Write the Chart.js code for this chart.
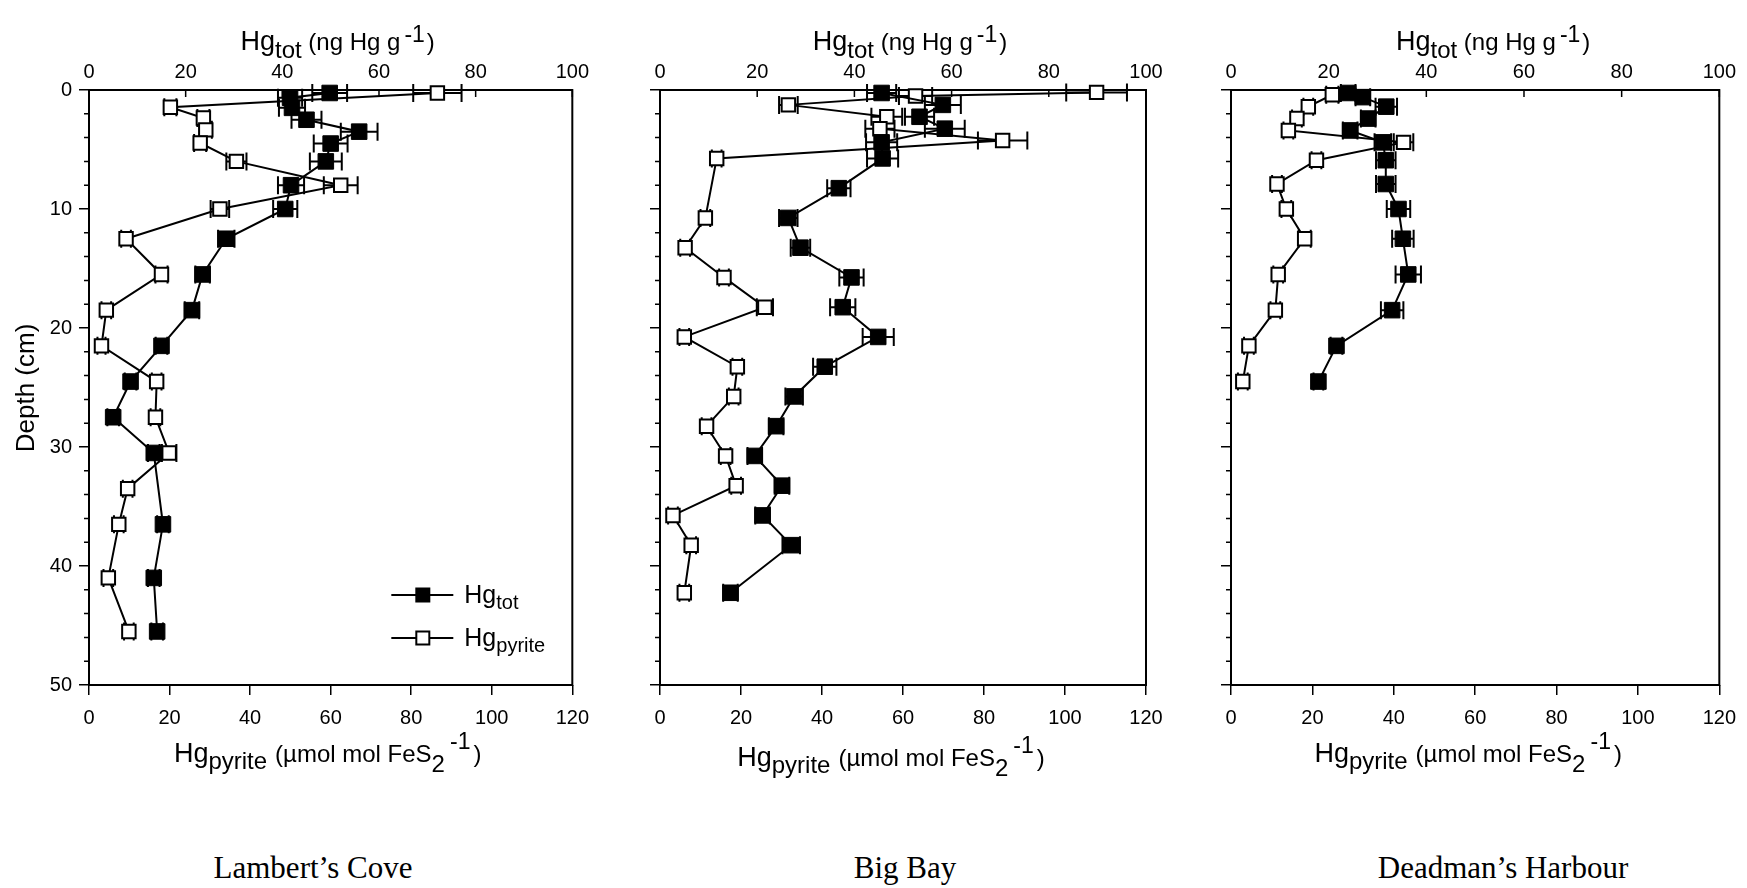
<!DOCTYPE html>
<html>
<head>
<meta charset="utf-8">
<title>Hg depth profiles</title>
<script src="https://cdn.jsdelivr.net/npm/chart.js@4.4.0/dist/chart.umd.min.js"></script>
<style>
    body { margin: 0; background: #fff; width: 1747px; height: 888px; position: relative; overflow: hidden; }
    canvas { position: absolute; top: 0; }
    .site { position: absolute; top: 853px; line-height: 30px; font-family: "Liberation Serif", "Times New Roman", serif; font-size: 31px; color: #000; transform: translateX(-50%); white-space: nowrap; }
</style>
</head>
<body>
<canvas id="lambertChart" width="600" height="800" style="left:0px"></canvas>
<canvas id="bigBayChart" width="580" height="800" style="left:600px"></canvas>
<canvas id="deadmanChart" width="567" height="800" style="left:1180px"></canvas>
<div class="site" style="left:313px">Lambert’s Cove</div>
<div class="site" style="left:905px">Big Bay</div>
<div class="site" style="left:1503px">Deadman’s Harbour</div>

<script>
        // Lambert's Cove
        const lcTotDepth = [0.25, 0.65, 1.5, 2.5, 3.5, 4.5, 6, 8, 10, 12.5, 15.5, 18.5, 21.5, 24.5, 27.5, 30.5, 36.5, 41, 45.5];
        const lcTot      = [49.8, 41.6, 42.0, 45.0, 55.9, 50.0, 49.0, 41.8, 40.6, 28.4, 23.5, 21.3, 15.0, 8.6, 5.0, 13.4, 15.3, 13.4, 14.1];
        const lcTotErr   = [3.6, 2.5, 2.7, 3.1, 3.8, 3.5, 3.3, 2.7, 2.5, 1.7, 1.5, 1.5, 1.2, 1.2, 1.2, 1.2, 1.2, 1.2, 1.2];
        const lcPyrDepth = [0.25, 1.45, 2.35, 3.35, 4.45, 6, 8, 10, 12.5, 15.5, 18.5, 21.5, 24.5, 27.5, 30.5, 33.5, 36.5, 41, 45.5];
        const lcPyr      = [86.5, 20.2, 28.4, 29.0, 27.6, 36.6, 62.5, 32.5, 9.2, 18.0, 4.3, 3.1, 16.8, 16.5, 19.9, 9.6, 7.4, 4.8, 9.9];
        const lcPyrErr   = [6.0, 1.5, 1.5, 1.5, 1.5, 2.5, 4.2, 2.3, 1.2, 1.5, 1.2, 1.0, 1.2, 1.2, 1.8, 1.2, 1.2, 1.2, 1.2];

        // Big Bay
        const bbTotDepth = [0.25, 1.25, 2.25, 3.25, 4.4, 5.75, 8.25, 10.75, 13.25, 15.75, 18.25, 20.75, 23.25, 25.75, 28.25, 30.75, 33.25, 35.75, 38.25, 42.25];
        const bbTot      = [45.6, 58.2, 53.4, 58.6, 45.6, 45.8, 36.8, 26.4, 28.9, 39.4, 37.6, 44.9, 33.9, 27.6, 23.9, 19.5, 25.1, 21.1, 27.0, 14.5];
        const bbTotErr   = [3.0, 3.7, 3.0, 4.1, 3.2, 3.2, 2.4, 1.9, 2.0, 2.5, 2.6, 3.2, 2.4, 1.8, 1.5, 1.5, 1.5, 1.5, 1.8, 1.5];
        const bbPyrDepth = [0.2, 0.5, 1.25, 2.25, 3.25, 4.25, 5.75, 10.75, 13.25, 15.75, 18.25, 20.75, 23.25, 25.75, 28.25, 30.75, 33.25, 35.75, 38.25, 42.25];
        const bbPyr      = [107.8, 63.1, 31.7, 56.0, 54.3, 84.6, 14.0, 11.2, 6.2, 15.8, 25.9, 6.0, 19.1, 18.2, 11.5, 16.2, 18.8, 3.2, 7.7, 6.0];
        const bbPyrErr   = [7.5, 4.1, 2.3, 3.8, 3.6, 6.1, 1.2, 1.2, 1.2, 1.2, 2.0, 1.2, 1.2, 1.2, 1.2, 1.2, 1.2, 1.2, 1.2, 1.2];

        // Deadman's Harbour
        const dhTotDepth = [0.25, 0.6, 1.4, 2.4, 3.4, 4.4, 5.9, 7.9, 10, 12.5, 15.5, 18.5, 21.5, 24.5];
        const dhTot      = [24.0, 27.0, 31.8, 28.1, 24.4, 31.1, 31.7, 31.7, 34.3, 35.2, 36.3, 33.0, 21.6, 17.9];
        const dhTotErr   = [1.5, 1.5, 2.2, 1.5, 1.5, 1.7, 2.0, 2.0, 2.4, 2.2, 2.6, 2.3, 1.2, 1.0];
        const dhPyrDepth = [0.4, 1.4, 2.4, 3.4, 4.4, 5.9, 7.9, 10, 12.5, 15.5, 18.5, 21.5, 24.5];
        const dhPyr      = [24.9, 19.0, 16.2, 14.1, 42.4, 21.0, 11.3, 13.6, 18.1, 11.6, 10.9, 4.4, 2.9];
        const dhPyrErr   = [1.5, 1.2, 1.2, 1.2, 2.4, 1.2, 1.2, 1.2, 1.5, 1.2, 1.2, 1.2, 1.2];

        const FONT = '"Liberation Sans", Arial, Helvetica, sans-serif';
        Chart.defaults.font.family = FONT;
        Chart.defaults.color = '#000';

        function toPoints(depths, values) {
            return values.map((v, i) => ({ x: v, y: depths[i] }));
        }

        // text with sub/superscripts: [text, size, dy, gapBefore]
        function richText(ctx, x, y, parts) {
            let w = 0;
            parts.forEach(p => {
                ctx.font = p[1] + 'px ' + FONT;
                w += (p[3] || 0) + ctx.measureText(p[0]).width;
            });
            let cx = x - w / 2;
            parts.forEach(p => {
                ctx.font = p[1] + 'px ' + FONT;
                cx += p[3] || 0;
                ctx.fillText(p[0], cx, y + p[2]);
                cx += ctx.measureText(p[0]).width;
            });
        }

        // horizontal error bars with caps
        const errorBars = {
            id: 'errorBars',
            beforeDatasetsDraw(chart) {
                const ctx = chart.ctx;
                ctx.save();
                ctx.strokeStyle = '#000';
                ctx.lineWidth = 2;
                chart.data.datasets.forEach((ds, di) => {
                    const meta = chart.getDatasetMeta(di);
                    const xs = chart.scales[ds.xAxisID];
                    ds.data.forEach((p, i) => {
                        const e = ds.errors[i];
                        const y = meta.data[i].y;
                        const x0 = xs.getPixelForValue(p.x - e);
                        const x1 = xs.getPixelForValue(p.x + e);
                        ctx.beginPath();
                        ctx.moveTo(x0, y); ctx.lineTo(x1, y);
                        ctx.moveTo(x0, y - 9); ctx.lineTo(x0, y + 9);
                        ctx.moveTo(x1, y - 9); ctx.lineTo(x1, y + 9);
                        ctx.stroke();
                    });
                });
                ctx.restore();
            }
        };

        // frame, inward top ticks, minor depth ticks, titles, legend
        const panelDeco = {
            id: 'panelDeco',
            beforeDatasetsDraw(chart, args, opts) {
                const ctx = chart.ctx;
                const a = chart.chartArea;
                ctx.save();
                ctx.strokeStyle = '#000';
                ctx.lineWidth = 2;
                ctx.strokeRect(a.left, a.top, a.right - a.left, a.bottom - a.top);
                ctx.lineWidth = 1.5;
                ctx.beginPath();
                chart.scales.xTop.ticks.forEach(t => {
                    const x = chart.scales.xTop.getPixelForValue(t.value);
                    ctx.moveTo(x, a.top); ctx.lineTo(x, a.top + 7);
                });
                const ys = chart.scales.y;
                for (let d = ys.min; d <= ys.max; d += 2) {
                    if (d % 10 === 0) continue;
                    const y = ys.getPixelForValue(d);
                    ctx.moveTo(a.left, y); ctx.lineTo(a.left - 5, y);
                }
                ctx.stroke();
                ctx.restore();
            },
            afterDraw(chart, args, opts) {
                const ctx = chart.ctx;
                const a = chart.chartArea;
                const mid = (a.left + a.right) / 2;
                ctx.save();
                ctx.fillStyle = '#000';
                ctx.textBaseline = 'alphabetic';
                ctx.textAlign = 'left';
                richText(ctx, mid + opts.topDx, 50, [['Hg', 27, 0], ['tot', 24, 8], [' (ng Hg g', 24, 0], ['-1', 23, -8, 4], [')', 24, 0, 2]]);
                richText(ctx, mid + opts.botDx, 762 + opts.botDy, [['Hg', 27, 0], ['pyrite', 24, 7], ['(\u00b5mol mol FeS', 24, 0, 8], ['2', 24, 10], ['-1', 23, -13, 5], [')', 24, 0, 3]]);

                if (opts.depthTitle) {
                    ctx.save();
                    ctx.translate(34, 388);
                    ctx.rotate(-Math.PI / 2);
                    ctx.textAlign = 'center';
                    ctx.font = '26px ' + FONT;
                    ctx.fillText('Depth (cm)', 0, 0);
                    ctx.restore();
                }

                if (opts.legend) {
                    const rows = [
                        { ds: chart.data.datasets[0], y: a.bottom - 90, parts: [['Hg', 25, 0], ['tot', 20, 6]] },
                        { ds: chart.data.datasets[1], y: a.bottom - 47, parts: [['Hg', 25, 0], ['pyrite', 20, 6]] }
                    ];
                    rows.forEach(r => {
                        const x0 = a.right - 181;
                        ctx.strokeStyle = '#000';
                        ctx.lineWidth = 2;
                        ctx.beginPath();
                        ctx.moveTo(x0, r.y); ctx.lineTo(x0 + 62, r.y);
                        ctx.stroke();
                        ctx.fillStyle = r.ds.pointBackgroundColor;
                        ctx.fillRect(x0 + 25, r.y - 6.5, 13, 13);
                        ctx.strokeRect(x0 + 25, r.y - 6.5, 13, 13);
                        ctx.fillStyle = '#000';
                        ctx.textAlign = 'left';
                        let tx = x0 + 73;
                        r.parts.forEach(p => {
                            ctx.font = p[1] + 'px ' + FONT;
                            ctx.fillText(p[0], tx, r.y + 8 + p[2]);
                            tx += ctx.measureText(p[0]).width;
                        });
                    });
                }
                ctx.restore();
            }
        };

        function buildPanel(canvasId, tot, pyr, cfg) {
            const ctx = document.getElementById(canvasId).getContext('2d');
            return new Chart(ctx, {
                type: 'scatter',
                data: {
                    datasets: [{
                        label: 'Hgtot',
                        data: tot.points,
                        errors: tot.errors,
                        xAxisID: 'xTop',
                        yAxisID: 'y',
                        showLine: true,
                        borderColor: '#000',
                        borderWidth: 2,
                        pointStyle: 'rect',
                        pointRadius: 11,
                        pointBackgroundColor: '#000',
                        pointBorderColor: '#000',
                        pointBorderWidth: 1,
                        clip: false
                    }, {
                        label: 'Hgpyrite',
                        data: pyr.points,
                        errors: pyr.errors,
                        xAxisID: 'x',
                        yAxisID: 'y',
                        showLine: true,
                        borderColor: '#000',
                        borderWidth: 2,
                        pointStyle: 'rect',
                        pointRadius: 9.5,
                        pointBackgroundColor: '#fff',
                        pointBorderColor: '#000',
                        pointBorderWidth: 2,
                        clip: false
                    }]
                },
                options: {
                    responsive: false,
                    animation: false,
                    events: [],
                    layout: { padding: { left: 0, right: cfg.padRight, top: 0, bottom: 0 } },
                    plugins: {
                        legend: { display: false },
                        tooltip: { enabled: false },
                        panelDeco: cfg.deco
                    },
                    scales: {
                        x: {
                            type: 'linear',
                            position: 'bottom',
                            min: 0,
                            max: 120,
                            ticks: { stepSize: 20, padding: 11, font: { size: 20 } },
                            grid: { drawOnChartArea: false, drawTicks: true, tickLength: 10, color: '#000', lineWidth: 1.5 },
                            border: { display: false },
                            afterFit: s => { s.height = 115; }
                        },
                        xTop: {
                            type: 'linear',
                            position: 'top',
                            min: 0,
                            max: 100,
                            ticks: { stepSize: 20, padding: 6, font: { size: 20 } },
                            grid: { display: false, drawTicks: false },
                            border: { display: false },
                            afterFit: s => { s.height = 90; }
                        },
                        y: {
                            type: 'linear',
                            reverse: true,
                            min: 0,
                            max: 50,
                            ticks: { stepSize: 10, padding: 7, display: cfg.yLabels, font: { size: 20 } },
                            grid: { drawOnChartArea: false, drawTicks: true, tickLength: 10, color: '#000', lineWidth: 1.5 },
                            border: { display: false },
                            afterFit: s => { s.width = cfg.yWidth; }
                        }
                    }
                },
                plugins: [errorBars, panelDeco]
            });
        }

        buildPanel('lambertChart',
            { points: toPoints(lcTotDepth, lcTot), errors: lcTotErr },
            { points: toPoints(lcPyrDepth, lcPyr), errors: lcPyrErr },
            { yWidth: 89, padRight: 24, yLabels: true, deco: { topDx: 7, botDx: -3, botDy: 0, depthTitle: true, legend: true } });

        buildPanel('bigBayChart',
            { points: toPoints(bbTotDepth, bbTot), errors: bbTotErr },
            { points: toPoints(bbPyrDepth, bbPyr), errors: bbPyrErr },
            { yWidth: 60, padRight: 34, yLabels: false, deco: { topDx: 7, botDx: -12, botDy: 4, depthTitle: false, legend: false } });

        buildPanel('deadmanChart',
            { points: toPoints(dhTotDepth, dhTot), errors: dhTotErr },
            { points: toPoints(dhPyrDepth, dhPyr), errors: dhPyrErr },
            { yWidth: 51, padRight: 21, yLabels: false, deco: { topDx: 18, botDx: -7, botDy: 0, depthTitle: false, legend: false } });
</script>
</body>
</html>
